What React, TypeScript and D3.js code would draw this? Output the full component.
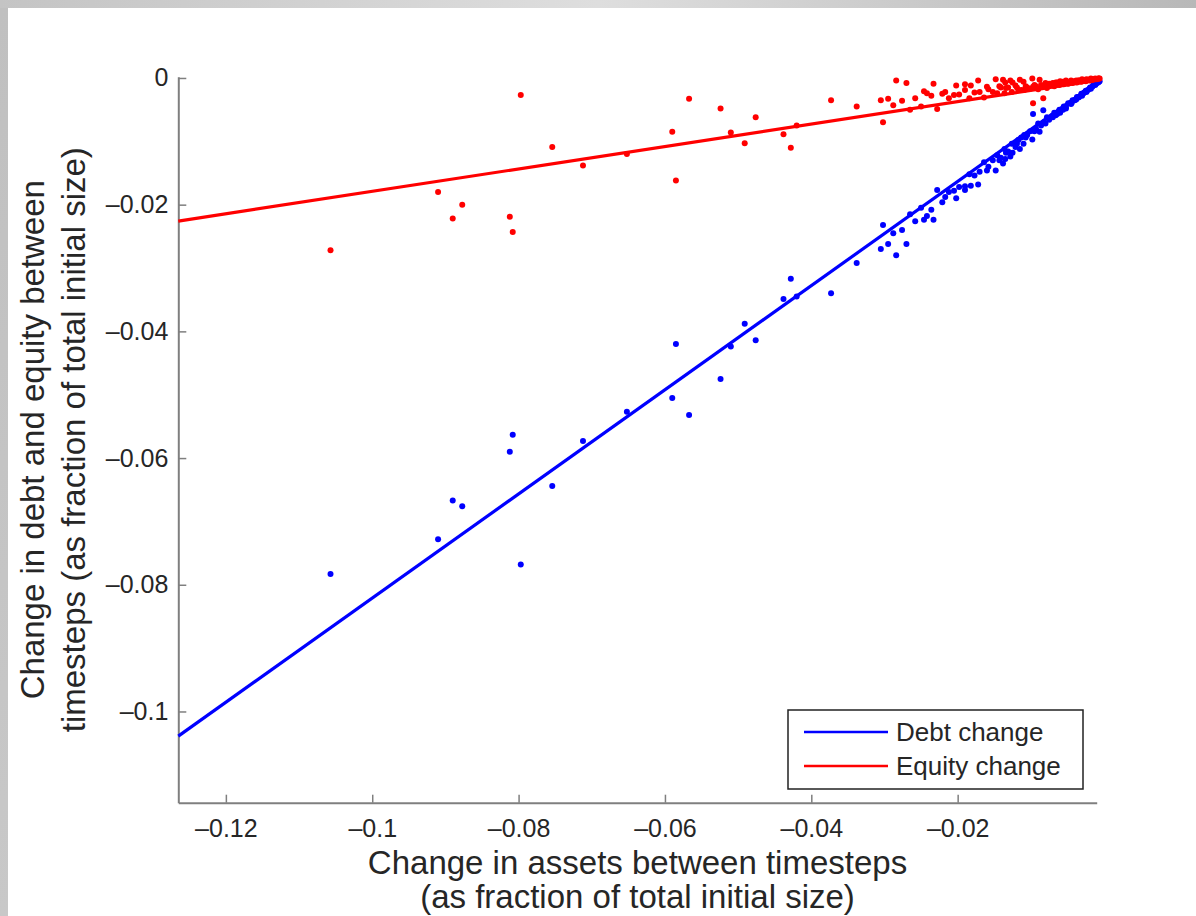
import React, { useRef, useEffect } from 'react';
import * as d3 from 'd3';

// change in assets, debt and equity per observation (fraction of total initial size)
const assetChange = [
  -0.1057, -0.0910, -0.0890, -0.0877, -0.0812, -0.0808, -0.0797, -0.0754, -0.0712, -0.0652,
  -0.0590, -0.0585, -0.0567, -0.0524, -0.0510, -0.0491, -0.0476, -0.0438, -0.0428, -0.0420,
  -0.0373, -0.0338, -0.0305, -0.0302, -0.0284, -0.0246, -0.0233, -0.0217, -0.0228, -0.0190,
  -0.0295, -0.0288, -0.0276, -0.0265, -0.0258, -0.0250, -0.0242, -0.0236, -0.0221, -0.0212,
  -0.0205, -0.0198, -0.0184, -0.0177, -0.0170, -0.0164, -0.0158, -0.0152, -0.0146, -0.0141,
  -0.0138, -0.0136, -0.0131, -0.0126, -0.0121, -0.0117, -0.0113, -0.0109, -0.0105, -0.0101,
  -0.0097, -0.0093, -0.0090, -0.0086, -0.0082, -0.0078, -0.0075, -0.0071, -0.0068, -0.0064,
  -0.0061, -0.0058, -0.0055, -0.0052, -0.0049, -0.0046, -0.0043, -0.0040, -0.0037, -0.0034,
  -0.0031, -0.0028, -0.0025, -0.0022, -0.0019, -0.0016, -0.0013, -0.0010, -0.0008,
  -0.0172, -0.0148, -0.0128, -0.0115, -0.0098, -0.0088, -0.0097, -0.0083, -0.0070, -0.0060,
  -0.0052, -0.0045, -0.0038, -0.0030, -0.0024, -0.0018, -0.0012,
  -0.0160, -0.0143, -0.0134, -0.0119, -0.0107, -0.0095, -0.0080, -0.0066, -0.0056, -0.0044,
  -0.0035, -0.0027, -0.0020, -0.0015, -0.0011, -0.0007, -0.0006, -0.0190, -0.0202, -0.0182,
  -0.0135, -0.0125, -0.0110, -0.0270,
];

const debtChange = [
  -0.0783, -0.0728, -0.0667, -0.0676, -0.0590, -0.0563, -0.0768, -0.0644, -0.0573, -0.0527,
  -0.0505, -0.0420, -0.0532, -0.0475, -0.0424, -0.0388, -0.0414, -0.0349, -0.0317, -0.0345,
  -0.0340, -0.0292, -0.0270, -0.0232, -0.0280, -0.0224, -0.0224, -0.0188, -0.0177, -0.0177,
  -0.0262, -0.0245, -0.0240, -0.0215, -0.0226, -0.0205, -0.0218, -0.0208, -0.0196, -0.0180,
  -0.0178, -0.0172, -0.0152, -0.0154, -0.0148, -0.0133, -0.0140, -0.0130, -0.0122, -0.0126,
  -0.0135, -0.0112, -0.0116, -0.0104, -0.0109, -0.0098, -0.0094, -0.0090, -0.0090, -0.0084,
  -0.0083, -0.0080, -0.0072, -0.0075, -0.0070, -0.0062, -0.0066, -0.0060, -0.0055, -0.0057,
  -0.0050, -0.0050, -0.0045, -0.0046, -0.0040, -0.0040, -0.0035, -0.0035, -0.0030, -0.0030,
  -0.0025, -0.0024, -0.0020, -0.0019, -0.0015, -0.0014, -0.0010, -0.0008, -0.0007,
  -0.0168, -0.0146, -0.0124, -0.0112, -0.0097, -0.0085, -0.0057, -0.0051, -0.0062, -0.0055,
  -0.0048, -0.0041, -0.0034, -0.0028, -0.0022, -0.0017, -0.0011,
  -0.0146, -0.0130, -0.0118, -0.0104, -0.0094, -0.0084, -0.0072, -0.0059, -0.0050, -0.0039,
  -0.0031, -0.0023, -0.0017, -0.0012, -0.0009, -0.0006, -0.0005, -0.0171, -0.0190, -0.0170,
  -0.0128, -0.0118, -0.0104, -0.0262,
];

const equityChange = [
  -0.0272, -0.0180, -0.0222, -0.0200, -0.0219, -0.0243, -0.0027, -0.0109, -0.0138, -0.0120,
  -0.0085, -0.0162, -0.0033, -0.0048, -0.0086, -0.0103, -0.0062, -0.0089, -0.0110, -0.0075,
  -0.0035, -0.0045, -0.0035, -0.0070, -0.0004, -0.0021, -0.0009, -0.0022, -0.0049, -0.0010,
  -0.0033, -0.0043, -0.0036, -0.0050, -0.0032, -0.0045, -0.0024, -0.0028, -0.0025, -0.0032,
  -0.0027, -0.0026, -0.0032, -0.0023, -0.0022, -0.0031, -0.0018, -0.0022, -0.0024, -0.0015,
  -0.0003, -0.0024, -0.0015, -0.0022, -0.0012, -0.0019, -0.0019, -0.0019, -0.0015, -0.0017,
  -0.0014, -0.0013, -0.0018, -0.0011, -0.0012, -0.0016, -0.0009, -0.0011, -0.0013, -0.0007,
  -0.0011, -0.0008, -0.0010, -0.0006, -0.0009, -0.0006, -0.0008, -0.0005, -0.0007, -0.0004,
  -0.0006, -0.0004, -0.0005, -0.0003, -0.0004, -0.0002, -0.0003, -0.0002, -0.0001,
  -0.0004, -0.0002, -0.0004, -0.0003, -0.0001, -0.0003, -0.0040, -0.0032, -0.0008, -0.0005,
  -0.0004, -0.0004, -0.0004, -0.0002, -0.0002, -0.0001, -0.0001,
  -0.0014, -0.0013, -0.0016, -0.0015, -0.0013, -0.0011, -0.0008, -0.0007, -0.0006, -0.0005,
  -0.0004, -0.0004, -0.0003, -0.0003, -0.0002, -0.0001, -0.0001, -0.0019, -0.0012, -0.0012,
  -0.0007, -0.0007, -0.0006, -0.0008,
];

// least-squares fits: slope, intercept
const debtFit = [0.822, 0.0001];
const equityFit = [0.177, -0.0002];

const xTicks = [-0.12, -0.1, -0.08, -0.06, -0.04, -0.02];
const yTicks = [0, -0.02, -0.04, -0.06, -0.08, -0.1];
const xDomain = [-0.1265, -0.001];
const yDomain = [-0.1144, 0.0002];

const seriesNames = ['Debt change', 'Equity change'];
const seriesColors = ['#0000ff', '#ff0000'];

const W = 1196;
const H = 916;
const font = '"Liberation Sans", Arial, Helvetica, sans-serif';

const fmt = (v: number) => (v === 0 ? '0' : '\u2013' + String(Math.abs(v)));

const App: React.FC = () => {
  const svgRef = useRef<SVGSVGElement | null>(null);
  const margin = { top: 76.7, right: W - 1096.7, bottom: H - 802.7, left: 178.3 };

  useEffect(() => {
    if (!svgRef.current) return;
    const svg = d3.select(svgRef.current);
    svg.selectAll('*').remove();

    const x = d3.scaleLinear().domain(xDomain).range([margin.left, W - margin.right]);
    const y = d3.scaleLinear().domain(yDomain).range([H - margin.bottom, margin.top]);

    // page frame
    const defs = svg.append('defs');
    const gTop = defs.append('linearGradient').attr('id', 'gTop');
    gTop.append('stop').attr('offset', '0%').attr('stop-color', '#c4c4c4');
    gTop.append('stop').attr('offset', '50%').attr('stop-color', '#dedede');
    gTop.append('stop').attr('offset', '100%').attr('stop-color', '#b8b8b8');
    const gLeft = defs.append('linearGradient').attr('id', 'gLeft').attr('x2', 0).attr('y2', 1);
    gLeft.append('stop').attr('offset', '0%').attr('stop-color', '#c0c0c0');
    gLeft.append('stop').attr('offset', '100%').attr('stop-color', '#c8c8c8');
    svg.append('rect').attr('width', W).attr('height', H).attr('fill', '#fff');
    svg.append('rect').attr('width', W).attr('height', 8).attr('fill', 'url(#gTop)');
    svg.append('rect').attr('y', 8).attr('width', 8).attr('height', H - 8).attr('fill', 'url(#gLeft)');

    const axisColor = '#7f7f7f';
    const textColor = '#262626';

    // axes (left + bottom, ticks pointing in)
    const xAxis = svg.append('g')
      .attr('transform', `translate(0,${H - margin.bottom})`)
      .call(d3.axisBottom(x).tickValues(xTicks).tickSizeInner(-8).tickSizeOuter(0).tickPadding(17).tickFormat(d => fmt(+d)));
    const yAxis = svg.append('g')
      .attr('transform', `translate(${margin.left},0)`)
      .call(d3.axisLeft(y).tickValues(yTicks).tickSizeInner(-8).tickSizeOuter(0).tickPadding(10).tickFormat(d => fmt(+d)));
    [xAxis, yAxis].forEach(a => {
      a.select('.domain').attr('stroke', axisColor).attr('stroke-width', 2);
      a.selectAll('.tick line').attr('stroke', axisColor).attr('stroke-width', 1.5);
      a.selectAll('.tick text').attr('fill', textColor).style('font-family', font).style('font-size', '25px');
    });
    xAxis.selectAll('.tick text').attr('dy', '0.71em');

    const plot = svg.append('g');
    const idx = d3.range(assetChange.length);

    // scatter points
    [debtChange, equityChange].forEach((vals, k) => {
      plot.append('g').selectAll('circle')
        .data(idx)
        .join('circle')
        .attr('cx', i => x(assetChange[i]))
        .attr('cy', i => y(vals[i]))
        .attr('r', 3)
        .attr('fill', seriesColors[k]);
    });

    // fitted lines
    [debtFit, equityFit].forEach((fit, k) => {
      const line = d3.line<number>().x(v => x(v)).y(v => y(fit[0] * v + fit[1]));
      plot.append('path')
        .datum(xDomain)
        .attr('d', line)
        .attr('fill', 'none')
        .attr('stroke', seriesColors[k])
        .attr('stroke-width', 3.2);
    });

    // axis titles
    const xTitle = svg.append('text')
      .attr('text-anchor', 'middle')
      .attr('fill', textColor)
      .style('font-family', font)
      .style('font-size', '33px');
    xTitle.append('tspan').attr('x', (margin.left + W - margin.right) / 2).attr('y', 874).text('Change in assets between timesteps');
    xTitle.append('tspan').attr('x', (margin.left + W - margin.right) / 2).attr('y', 908).text('(as fraction of total initial size)');

    const yMid = (margin.top + H - margin.bottom) / 2;
    [['Change in debt and equity between', 44], ['timesteps (as fraction of total initial size)', 85]].forEach(([t, bx]) => {
      svg.append('text')
        .attr('transform', `translate(${bx},${yMid}) rotate(-90)`)
        .attr('text-anchor', 'middle')
        .attr('fill', textColor)
        .style('font-family', font)
        .style('font-size', '33px')
        .text(t as string);
    });

    // legend
    const legend = svg.append('g').attr('transform', 'translate(788,710)');
    legend.append('rect')
      .attr('width', 295)
      .attr('height', 79)
      .attr('fill', '#fff')
      .attr('stroke', '#222')
      .attr('stroke-width', 1.5);
    seriesNames.forEach((name, k) => {
      const row = legend.append('g').attr('transform', `translate(0,${22 + k * 34})`);
      row.append('line')
        .attr('x1', 16).attr('x2', 100)
        .attr('stroke', seriesColors[k])
        .attr('stroke-width', 2.5);
      row.append('text')
        .attr('x', 108)
        .attr('dy', '0.36em')
        .attr('fill', textColor)
        .style('font-family', font)
        .style('font-size', '26px')
        .text(name);
    });
  }, []);

  return (
    <svg
      ref={svgRef}
      width={W}
      height={H}
      style={{ position: 'absolute', left: 0, top: 0 }}
    />
  );
};

export default App;
